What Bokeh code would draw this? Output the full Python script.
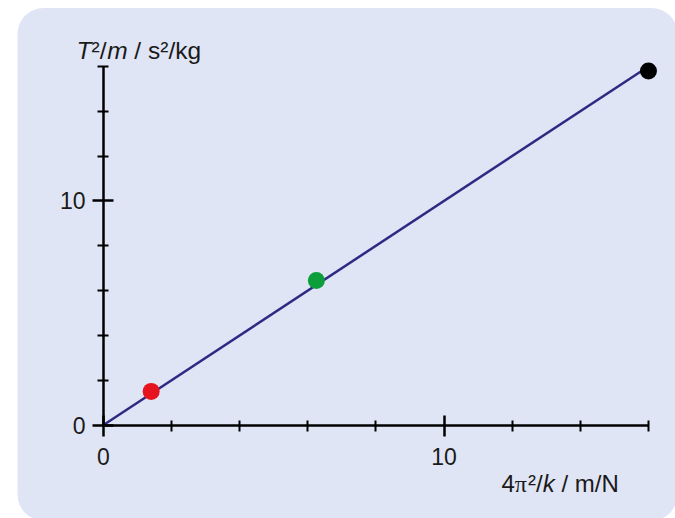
from bokeh.plotting import figure
from bokeh.models import LinearAxis, FixedTicker, Range1d
from bokeh.embed import file_html
from bokeh.resources import INLINE

# ---- data ----
line_x = [0, 16]
line_y = [0, 16]
pt_x = [1.4, 6.25, 16]
pt_y = [1.5, 6.45, 15.8]
pt_colors = ["#e5141f", "#0b9e3b", "#000000"]
major_ticks = [0, 10]
minor_ticks = [2, 4, 6, 8, 12, 14, 16]

W, H = 675, 518
X0, XS = 103.0, 34.06   # pixel of x=0, pixels per unit
Y0, YS = 424.5, 22.41   # pixel of y=0 (from top), pixels per unit

def px2x(px):
    return (px - X0) / XS

def py2y(py):
    return (Y0 - py) / YS

p = figure(width=W, height=H, output_backend="svg", toolbar_location=None,
           x_axis_type=None, y_axis_type=None, min_border=0,
           x_range=Range1d(px2x(0), px2x(W)), y_range=Range1d(py2y(H), py2y(0)))
p.background_fill_color = "white"
p.border_fill_color = "white"
p.outline_line_color = None
p.grid.visible = False

# rounded panel background
p.quad(left=[px2x(17)], right=[px2x(677)], top=[py2y(7.5)], bottom=[py2y(520)],
       fill_color="#e0e5f5", line_color=None, border_radius=26)

FONT = "Liberation Sans"
TXT = "#1a1a1a"

def style_axis(ax):
    ax.fixed_location = 0
    ax.bounds = (0, 16)
    ax.ticker = FixedTicker(ticks=major_ticks, minor_ticks=minor_ticks)
    ax.axis_line_width = 2.5
    ax.axis_line_color = "black"
    ax.major_tick_line_width = 2.5
    ax.major_tick_line_color = "black"
    ax.major_tick_in = 10
    ax.major_tick_out = 11
    ax.minor_tick_line_width = 2
    ax.minor_tick_line_color = "black"
    ax.minor_tick_in = 5
    ax.minor_tick_out = 6
    ax.major_label_text_font = FONT
    ax.major_label_text_font_size = "23px"
    ax.major_label_text_color = TXT

xax = LinearAxis()
style_axis(xax)
xax.major_label_standoff = 12
p.add_layout(xax, "below")

yax = LinearAxis()
style_axis(yax)
yax.major_label_standoff = 7
p.add_layout(yax, "left")

# data line and points
p.line(line_x, line_y, line_color="#2d2a84", line_width=2.5)
p.scatter(pt_x, pt_y, size=17, fill_color=pt_colors, line_color=None)

SP = 0.278  # width of a space, em

# axis titles built from pieces (italic variables); (text, lead_gap_em, width_em, font, style)
def title(pieces, px, py, size=24):
    xs, offs, txt, fonts, styles = [], [], [], [], []
    off = 0.0
    for t, gap, w, f, s in pieces:
        off += gap * size
        xs.append(px2x(px)); offs.append(off); txt.append(t); fonts.append(f); styles.append(s)
        off += w * size
    p.text(x=xs, y=[py2y(py)] * len(xs), x_offset=offs, text=txt,
           text_font=fonts, text_font_style=styles, text_font_size=f"{size}px",
           text_color=TXT, text_baseline="alphabetic", text_align="left")

title([("T", 0, 0.611, FONT, "italic"),
       ("²/", 0, 0.64, FONT, "normal"),
       ("m", 0, 0.833, FONT, "italic"),
       ("/ s²/kg", SP, 2.8, FONT, "normal")], 76, 50, size=24.5)

title([("4", 0, 0.556, FONT, "normal"),
       ("π", 0, 0.55, "Liberation Serif", "normal"),
       ("²/", 0, 0.611, FONT, "normal"),
       ("k", 0, 0.5, FONT, "italic"),
       ("/ m/N", SP, 2.4, FONT, "normal")], 501, 483, size=24)

open("out.html", "w").write(file_html(p, INLINE))
